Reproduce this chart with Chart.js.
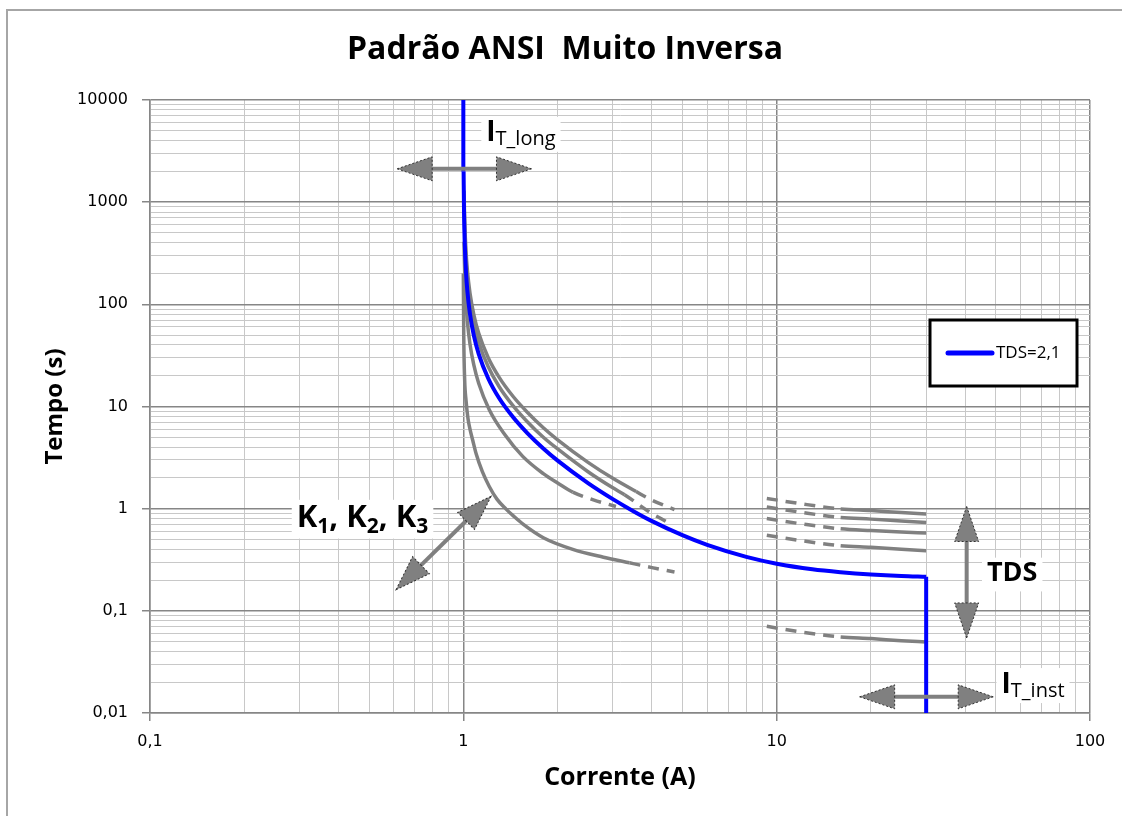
<!DOCTYPE html>
<html>
<head>
<meta charset="utf-8">
<script src="https://cdn.jsdelivr.net/npm/chart.js@4.4.0/dist/chart.umd.min.js"></script>
<style>
  html, body { margin: 0; padding: 0; background: #fff; }
  #wrap { width: 1122px; height: 816px; position: relative; }
</style>
</head>
<body>
<div id="wrap"><canvas id="chart"></canvas></div>
<script>
// Curva ANSI muito inversa, TDS = 2,1
const pickupCurrent = 1;
const instCurrent = 30;
const blueCurrent = [1.002, 1.005, 1.01, 1.02, 1.03, 1.05, 1.08, 1.12, 1.2, 1.3, 1.44, 1.6, 1.8, 2.0, 2.5, 3.0, 3.5, 4.0, 5.0, 6.0, 8.0, 10, 13, 16, 20, 25, 30];
const blueTime = [2000, 820, 410, 204, 135, 80.6, 49.7, 32.6, 18.9, 12.1, 7.88, 5.49, 3.88, 2.95, 1.78, 1.24, 0.94, 0.755, 0.55, 0.442, 0.337, 0.289, 0.255, 0.239, 0.227, 0.219, 0.215];

// curvas cinzas (K1, K2, K3) perto do pickup
const grayA_I = [1, 1.003, 1.01, 1.02, 1.035, 1.05, 1.071, 1.1, 1.15, 1.21, 1.28, 1.369, 1.45, 1.547, 1.8, 2.235, 2.8, 3.39, 4.0, 4.72];
const grayA_t = [200, 50, 18, 11.5, 7.6, 6.0, 4.7, 3.4, 2.3, 1.65, 1.24, 0.99, 0.84, 0.71, 0.52, 0.40, 0.335, 0.295, 0.265, 0.24];
const grayB_I = [1.005, 1.01, 1.02, 1.03, 1.05, 1.08, 1.12, 1.21, 1.35, 1.547, 1.8, 2.0, 2.235, 2.6, 3.07];
const grayB_t = [410, 205, 103, 68, 41, 25.5, 16.8, 9.3, 5.4, 3.25, 2.2, 1.78, 1.45, 1.22, 1.05];
const grayC_I = [1.005, 1.01, 1.02, 1.03, 1.05, 1.08, 1.12, 1.2, 1.3, 1.44, 1.6, 1.8, 2.0, 2.5, 3.0, 3.56, 4.0, 4.72];
const grayC_t = [1300, 656, 327, 217, 129, 79.5, 52, 30.2, 19.4, 12.6, 8.8, 6.2, 4.72, 2.84, 1.98, 1.47, 1.21, 0.98];
const grayD_I = [1.005, 1.01, 1.02, 1.03, 1.05, 1.08, 1.12, 1.2, 1.3, 1.44, 1.6, 1.8, 2.0, 2.5, 3.0, 3.27, 3.88, 4.5];
const grayD_t = [1070, 533, 265, 176, 105, 64.6, 42.4, 24.6, 15.7, 10.2, 7.1, 5.0, 3.84, 2.3, 1.6, 1.37, 0.95, 0.73];

// curvas cinzas (TDS) a direita
const tdsCurrent = [9.3, 12, 16, 20, 25, 30];
const tds1 = [1.26, 1.115, 0.995, 0.958, 0.917, 0.887];
const tds2 = [1.04, 0.92, 0.82, 0.79, 0.757, 0.734];
const tds3 = [0.80, 0.71, 0.635, 0.61, 0.59, 0.578];
const tds4 = [0.55, 0.486, 0.434, 0.418, 0.40, 0.388];
const tds5 = [0.0705, 0.062, 0.0555, 0.0535, 0.051, 0.0495];

const xMajor = [0.1, 1, 10, 100];
const yMajor = [0.01, 0.1, 1, 10, 100, 1000, 10000];

function withMinor(majors) {
  const out = [];
  majors.forEach((m, i) => {
    out.push(m);
    if (i < majors.length - 1) {
      for (let k = 2; k <= 9; k++) out.push(+(m * k).toPrecision(6));
    }
  });
  return out;
}
const xTicks = withMinor(xMajor);
const yTicks = withMinor(yMajor);

const isMajor = v => Math.abs(Math.log10(v) - Math.round(Math.log10(v))) < 1e-6;
const fmt = v => isMajor(v) ? String(v).replace('.', ',') : '';
const pts = (xs, ys) => xs.map((x, i) => ({ x: x, y: ys[i] }));

const BLUE = '#0000ff';
const GRAY = '#808080';

// trecho tracejado entre dashLo e dashHi (corrente)
function curve(xs, ys, color, width, dashLo, dashHi) {
  return {
    data: pts(xs, ys),
    borderColor: color,
    borderWidth: width,
    pointRadius: 0,
    fill: false,
    cubicInterpolationMode: 'monotone',
    segment: {
      borderDash: ctx => (dashLo != null && ctx.p0.parsed.x >= dashLo - 1e-9 && ctx.p1.parsed.x <= dashHi + 1e-9) ? [11, 8] : undefined
    }
  };
}

// setas e rotulos (posicoes em unidades dos eixos)
const arrows = [
  { from: [0.615, 2120], to: [1.65, 2120] },
  { from: [0.61, 0.161], to: [1.226, 1.32] },
  { from: [40.4, 1.05], to: [40.4, 0.0543] },
  { from: [18.4, 0.0144], to: [49.1, 0.0144] }
];
const notes = [
  { x: 1.184, y: 3926, parts: [['I', 28, 'bold', 0], ['T_long', 20, 'normal', 4]] },
  { x: 52.2, y: 0.0158, parts: [['I', 28, 'bold', 0], ['T_inst', 20, 'normal', 4]] },
  { x: 0.294, y: 0.66, parts: [['K', 31, 'bold', 0], ['1', 21, 'bold', 6], [', ', 31, 'bold', 0],
                                ['K', 31, 'bold', 0], ['2', 21, 'bold', 6], [', ', 31, 'bold', 0],
                                ['K', 31, 'bold', 0], ['3', 21, 'bold', 6]] },
  { x: 46.9, y: 0.194, parts: [['TDS', 27, 'bold', 0]] }
];
const legendBox = { x: 930, y: 320, w: 147, h: 66 };

function drawArrow(c, x1, y1, x2, y2) {
  const headLen = 35, headHalf = 12;
  const ang = Math.atan2(y2 - y1, x2 - x1);
  const len = Math.hypot(x2 - x1, y2 - y1);
  c.save();
  c.translate(x1, y1);
  c.rotate(ang);
  c.strokeStyle = GRAY;
  c.lineWidth = 4;
  c.beginPath();
  c.moveTo(headLen - 2, 0);
  c.lineTo(len - headLen + 2, 0);
  c.stroke();
  [[0, 1], [len, -1]].forEach(([tip, dir]) => {
    c.beginPath();
    c.moveTo(tip, 0);
    c.lineTo(tip + dir * headLen, -headHalf);
    c.lineTo(tip + dir * headLen, headHalf);
    c.closePath();
    c.fillStyle = GRAY;
    c.fill();
    c.setLineDash([2, 2]);
    c.lineWidth = 1;
    c.strokeStyle = '#333';
    c.stroke();
    c.setLineDash([]);
  });
  c.restore();
}

function drawNote(c, x, y, parts) {
  let w = 0, maxSize = 0;
  parts.forEach(p => {
    c.font = p[2] + ' ' + p[1] + 'px "Open Sans"';
    p.w = c.measureText(p[0]).width;
    w += p.w;
    maxSize = Math.max(maxSize, p[1]);
  });
  c.fillStyle = '#fff';
  c.fillRect(x - 5, y - maxSize * 0.88, w + 10, maxSize * 1.25);
  c.fillStyle = '#000';
  c.textBaseline = 'alphabetic';
  c.textAlign = 'left';
  let cx = x;
  parts.forEach(p => {
    c.font = p[2] + ' ' + p[1] + 'px "Open Sans"';
    c.fillText(p[0], cx, y + p[3]);
    cx += p.w;
  });
}

const framePlugin = {
  id: 'frame',
  beforeDraw(chart) {
    const c = chart.ctx;
    c.save();
    c.fillStyle = '#fff';
    c.fillRect(0, 0, chart.width, chart.height);
    c.strokeStyle = '#a6a6a6';
    c.lineWidth = 2;
    c.beginPath();
    c.moveTo(7, chart.height);
    c.lineTo(7, 10);
    c.lineTo(chart.width, 10);
    c.stroke();
    c.restore();
  }
};

const notesPlugin = {
  id: 'notes',
  afterDatasetsDraw(chart) {
    const c = chart.ctx;
    const xs = chart.scales.x, ys = chart.scales.y;
    c.save();
    arrows.forEach(a => {
      drawArrow(c, xs.getPixelForValue(a.from[0]), ys.getPixelForValue(a.from[1]),
                   xs.getPixelForValue(a.to[0]), ys.getPixelForValue(a.to[1]));
    });
    notes.forEach(n => drawNote(c, xs.getPixelForValue(n.x), ys.getPixelForValue(n.y), n.parts));

    // legenda
    const b = legendBox;
    c.fillStyle = '#fff';
    c.fillRect(b.x, b.y, b.w, b.h);
    c.strokeStyle = '#000';
    c.lineWidth = 3;
    c.strokeRect(b.x, b.y, b.w, b.h);
    c.strokeStyle = BLUE;
    c.lineWidth = 5;
    c.lineCap = 'round';
    c.beginPath();
    c.moveTo(b.x + 18, b.y + 33);
    c.lineTo(b.x + 62, b.y + 33);
    c.stroke();
    c.fillStyle = '#000';
    c.font = '17px "Open Sans"';
    c.textBaseline = 'middle';
    c.fillText('TDS=2,1', b.x + 66, b.y + 33);
    c.restore();
  }
};

const gridColor = ctx => (ctx.tick && isMajor(ctx.tick.value)) ? '#868686' : '#c8c8c8';
const gridWidth = ctx => (ctx.tick && isMajor(ctx.tick.value)) ? 1.5 : 1;
const tickColor = ctx => (ctx.tick && isMajor(ctx.tick.value)) ? '#868686' : 'rgba(0,0,0,0)';

new Chart(document.getElementById('chart'), {
  type: 'line',
  data: {
    datasets: [
      { data: [{ x: pickupCurrent, y: 10000 }, { x: pickupCurrent, y: blueTime[0] }], borderColor: BLUE, borderWidth: 4, pointRadius: 0 },
      curve(blueCurrent, blueTime, BLUE, 4),
      { data: [{ x: instCurrent, y: blueTime[blueTime.length - 1] }, { x: instCurrent, y: 0.01 }], borderColor: BLUE, borderWidth: 4, pointRadius: 0 },
      curve(grayC_I, grayC_t, GRAY, 3.5, 3.56, 100),
      curve(grayD_I, grayD_t, GRAY, 3.5, 3.27, 100),
      curve(grayB_I, grayB_t, GRAY, 3.5, 2.235, 100),
      curve(grayA_I, grayA_t, GRAY, 3.5, 3.39, 100),
      curve(tdsCurrent, tds1, GRAY, 3.5, 0, 16),
      curve(tdsCurrent, tds2, GRAY, 3.5, 0, 16),
      curve(tdsCurrent, tds3, GRAY, 3.5, 0, 16),
      curve(tdsCurrent, tds4, GRAY, 3.5, 0, 16),
      curve(tdsCurrent, tds5, GRAY, 3.5, 0, 16)
    ]
  },
  options: {
    responsive: true,
    maintainAspectRatio: false,
    animation: false,
    layout: { padding: { left: 40, right: 32, top: 12, bottom: 10 } },
    plugins: {
      legend: { display: false },
      tooltip: { enabled: false },
      title: {
        display: true,
        text: 'Padrão ANSI  Muito Inversa',
        color: '#000',
        font: { family: 'Open Sans', size: 32, weight: 'bold', lineHeight: 1.2 },
        padding: { top: 19, bottom: 30.6 }
      }
    },
    scales: {
      x: {
        type: 'logarithmic',
        min: 0.1,
        max: 100,
        afterBuildTicks: s => { s.ticks = xTicks.map(v => ({ value: v, major: false })); },
        afterFit: s => { s.height = 93; },
        ticks: {
          autoSkip: false, maxRotation: 0, minRotation: 0, padding: 11,
          color: '#000', font: { family: 'DejaVu Sans', size: 16 },
          callback: v => fmt(v)
        },
        grid: { color: gridColor, lineWidth: gridWidth, tickLength: 8, tickColor: tickColor, tickWidth: 1.5 },
        border: { color: '#868686', width: 1.5 },
        title: {
          display: true, text: 'Corrente (A)', color: '#000',
          font: { family: 'Open Sans', size: 25, weight: 'bold', lineHeight: 1.2 },
          padding: { top: 0, bottom: 13 }
        }
      },
      y: {
        type: 'logarithmic',
        min: 0.01,
        max: 10000,
        afterBuildTicks: s => { s.ticks = yTicks.map(v => ({ value: v, major: false })); },
        afterFit: s => { s.width = 110; },
        ticks: {
          autoSkip: false, padding: 14,
          color: '#000', font: { family: 'DejaVu Sans', size: 16 },
          callback: v => fmt(v)
        },
        grid: { color: gridColor, lineWidth: gridWidth, tickLength: 8, tickColor: tickColor, tickWidth: 1.5 },
        border: { color: '#868686', width: 1.5 },
        title: {
          display: true, text: 'Tempo (s)', color: '#000',
          font: { family: 'Open Sans', size: 24, weight: 'bold', lineHeight: 1 },
          padding: { top: 3, bottom: 0 }
        }
      }
    }
  },
  plugins: [framePlugin, notesPlugin]
});
</script>
</body>
</html>
